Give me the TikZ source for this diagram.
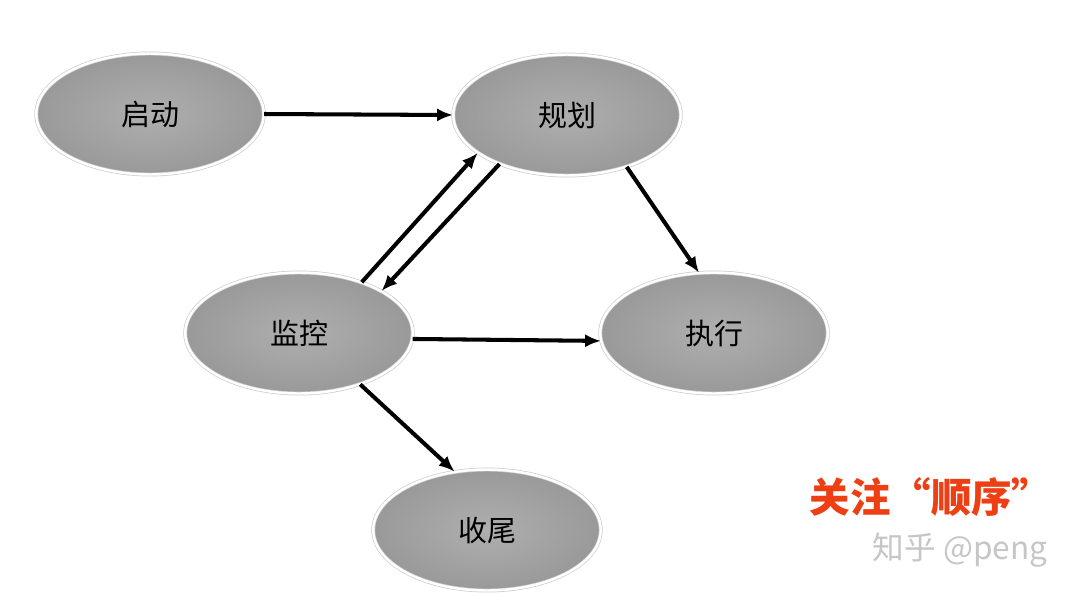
\documentclass[tikz,border=0pt]{standalone}
\usepackage{fontspec}
\newfontfamily\cjk{Noto Sans CJK SC}
\usetikzlibrary{shapes.geometric,arrows.meta}
\definecolor{notice}{RGB}{238,62,20}
\begin{document}
\begin{tikzpicture}[>={Latex[length=9pt,width=7.5pt]}]
\tikzstyle{phase}=[ellipse,minimum width=4.55cm,minimum height=2.42cm,inner sep=0pt,
  inner color=gray!63,outer color=gray!80,draw=gray!40,double=white,double distance=1.4pt,
  font=\cjk\fontsize{16.5}{19}\selectfont]
\tikzstyle{flow}=[->,draw=black,line width=2.3pt]
\tikzstyle{notice text}=[text=notice,font=\cjk\bfseries\fontsize{23}{27}\selectfont]
\tikzstyle{mark text}=[text=gray!45,font=\cjk\fontsize{18}{22}\selectfont]

% Fix the page size
\useasboundingbox (0,0) rectangle (21.54,-12);

% Draw the phases
\foreach \name / \x / \y / \txt in {qd/3.0/-2.28/启动, gh/11.34/-2.3/规划, jk/5.98/-6.66/监控,
    zx/14.28/-6.66/执行, ws/9.74/-10.6/收尾}
  \node[phase] (\name) at (\x,\y) {\txt};

% Connect the phases
\foreach \source / \dest in {qd.east/gh.west, gh.-41/zx.104, jk.39/gh.-157,
    gh.-144/jk.27, jk.-3/zx.184, jk.-40/ws.119}
  \path (\source) edge[flow] (\dest);

% Annotate the picture
\node[notice text] (focus) at (18.62,-9.94) {关注“顺序”};
\node[mark text] (mark) at (19.2,-11.0) {知乎 @peng};

\end{tikzpicture}
\end{document}
